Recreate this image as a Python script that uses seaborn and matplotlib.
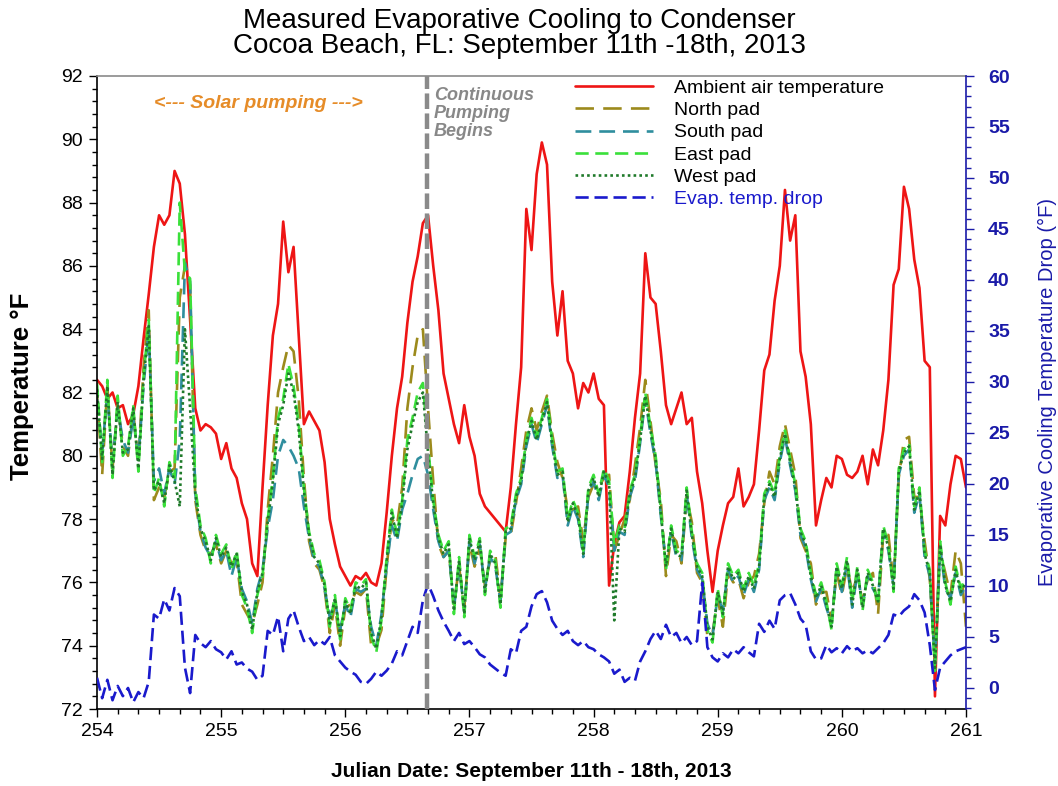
import numpy as np
import pandas as pd
import matplotlib
matplotlib.use("Agg")
import matplotlib.pyplot as plt
import seaborn as sns
from matplotlib.ticker import MultipleLocator
from matplotlib.lines import Line2D

# ---------------- data (hourly readings, Julian day 254 -> 261) ----------------
ambient = [
    82.4, 82.2, 81.8, 82.0, 81.5, 81.6, 81.0, 81.3, 82.2, 83.7, 85.1, 86.6, 87.6, 87.3, 87.6, 89.0, 88.6, 87.0, 84.3, 81.5, 80.8, 81.0, 80.9, 80.7,
    79.9, 80.4, 79.6, 79.3, 78.5, 78.0, 76.6, 76.2, 79.0, 81.6, 83.8, 84.8, 87.4, 85.8, 86.6, 83.8, 81.0, 81.4, 81.1, 80.8, 79.8, 78.0, 77.2, 76.5,
    76.2, 75.9, 76.2, 76.1, 76.3, 76.0, 75.9, 76.6, 78.2, 80.0, 81.5, 82.5, 84.2, 85.5, 86.3, 87.35, 87.6, 86.0, 84.6, 82.6, 81.8, 81.0, 80.4, 81.6,
    80.6, 80.0, 78.8, 78.4, 78.2, 78.0, 77.8, 77.6, 79.0, 81.0, 82.8, 87.8, 86.5, 88.9, 89.9, 89.2, 85.5, 83.8, 85.2, 83.0, 82.6, 81.5, 82.3, 82.0,
    82.6, 81.8, 81.6, 75.9, 77.2, 77.9, 78.1, 79.5, 81.2, 82.6, 86.4, 85.0, 84.8, 83.3, 81.6, 81.0, 81.5, 82.0, 81.0, 81.2, 79.5, 78.5, 77.0, 75.7,
    77.0, 77.8, 78.5, 78.7, 79.6, 78.4, 78.7, 79.1, 80.8, 82.7, 83.2, 84.9, 86.0, 88.4, 86.8, 87.6, 83.3, 82.5, 81.0, 77.8, 78.6, 79.3, 79.0, 80.0,
    79.9, 79.4, 79.3, 79.5, 80.0, 79.1, 80.2, 79.7, 80.8, 82.4, 85.4, 85.9, 88.5, 87.8, 86.2, 85.3, 83.0, 82.8, 72.4, 78.1, 77.8, 79.1, 80.0, 79.9,
    79.0,
]
north_pad = [
    82.0, 79.4, 82.2, 79.6, 81.6, 80.3, 80.0, 81.4, 79.8, 82.8, 84.6, 78.6, 79.0, 78.7, 79.5, 79.6, 85.0, 86.0, 85.4, 78.6, 77.5, 77.0, 76.9, 77.2,
    76.6, 77.0, 76.6, 76.7, 75.3, 75.0, 74.7, 75.3, 76.0, 78.3, 80.0, 82.0, 82.8, 83.5, 83.3, 81.8, 79.3, 77.3, 76.6, 76.4, 75.8, 74.4, 75.3, 74.0,
    75.2, 75.3, 75.7, 75.6, 75.8, 74.0, 74.0, 74.5, 76.5, 78.0, 77.8, 79.0, 81.5, 82.8, 83.8, 84.0, 81.5, 79.2, 77.2, 76.8, 77.0, 75.3, 76.5, 75.2,
    77.2, 76.5, 77.1, 75.9, 76.7, 76.9, 75.5, 77.4, 77.5, 78.5, 79.6, 80.8, 81.5, 80.8, 81.4, 81.9, 80.7, 79.8, 79.3, 78.3, 78.3, 78.4, 77.3, 78.7,
    79.1, 79.0, 79.3, 79.4, 77.0, 77.5, 78.0, 78.6, 79.7, 80.9, 82.4, 81.1, 79.7, 78.6, 76.2, 77.5, 77.3, 76.6, 78.7, 77.9, 76.3, 76.0, 74.3, 74.4,
    75.5, 74.6, 76.3, 76.0, 76.1, 75.5, 76.0, 76.2, 76.9, 78.5, 79.5, 79.1, 80.3, 81.0, 80.2, 79.4, 77.4, 77.0, 76.6, 75.3, 75.7, 75.7, 74.8, 76.3,
    75.6, 76.5, 75.7, 76.2, 75.4, 76.1, 76.3, 75.0, 77.5, 77.5, 76.0, 79.3, 80.5, 80.6, 78.7, 78.7, 77.3, 76.1, 73.5, 77.0, 76.3, 75.6, 77.0, 76.6,
    74.6,
]
south_pad = [
    81.8, 80.2, 81.9, 79.8, 81.5, 80.5, 80.1, 81.2, 79.9, 82.2, 84.0, 79.2, 79.6, 78.8, 79.6, 79.1, 80.5, 86.1, 85.5, 78.8, 77.6, 77.1, 76.8, 77.3,
    76.7, 77.0, 76.2, 76.8, 75.8, 75.4, 74.7, 75.8, 76.4, 77.7, 78.6, 80.0, 80.5, 80.3, 80.0, 79.6, 78.4, 77.4, 76.7, 76.5, 75.8, 74.9, 75.4, 74.5,
    75.3, 74.9, 75.8, 75.7, 75.8, 74.6, 74.0, 75.0, 76.5, 77.8, 77.3, 78.3, 78.8, 79.4, 79.9, 80.0, 79.4, 78.3, 77.3, 76.8, 77.0, 75.2, 76.5, 75.1,
    77.3, 76.6, 77.2, 75.8, 76.8, 76.5, 75.4, 77.5, 77.6, 78.6, 79.1, 80.3, 81.0, 80.4, 81.0, 81.6, 80.3, 79.3, 79.4, 77.8, 78.4, 78.0, 76.8, 78.8,
    79.2, 78.6, 79.4, 79.0, 77.0, 77.6, 77.5, 78.7, 79.2, 80.4, 81.8, 80.7, 79.8, 78.1, 76.6, 77.6, 76.8, 76.7, 78.8, 77.4, 76.4, 76.1, 74.7, 74.3,
    75.6, 75.1, 76.4, 76.0, 76.2, 75.6, 76.1, 75.7, 76.4, 78.6, 79.0, 78.6, 79.8, 80.6, 79.7, 78.9, 77.5, 77.1, 76.1, 75.4, 75.8, 75.2, 74.7, 76.4,
    75.7, 76.6, 75.2, 76.3, 75.3, 76.2, 75.8, 75.5, 77.6, 77.0, 75.9, 79.4, 80.0, 80.2, 78.2, 78.8, 76.8, 76.2, 73.4, 77.1, 75.8, 75.5, 76.3, 75.6,
    75.9,
]
east_pad = [
    82.3, 79.8, 82.4, 79.3, 81.9, 80.0, 80.3, 81.6, 79.5, 82.5, 84.3, 78.8, 79.3, 78.4, 79.8, 79.3, 88.0, 85.8, 85.6, 79.0, 77.8, 77.4, 76.6, 77.5,
    76.9, 77.2, 76.4, 77.0, 75.6, 75.2, 74.4, 75.6, 76.2, 78.0, 79.3, 81.2, 81.8, 82.9, 82.2, 81.0, 79.0, 77.6, 76.9, 76.7, 76.0, 74.6, 75.6, 74.2,
    75.5, 75.1, 76.0, 75.9, 76.1, 74.3, 73.8, 74.8, 76.8, 78.3, 77.5, 78.6, 80.5, 81.2, 82.0, 82.3, 80.3, 78.6, 77.5, 77.0, 77.3, 75.0, 76.8, 74.9,
    77.5, 76.8, 77.4, 75.6, 77.0, 76.7, 75.2, 77.7, 77.8, 78.8, 79.3, 80.5, 81.2, 80.6, 81.2, 81.8, 80.5, 79.5, 79.6, 78.0, 78.6, 78.2, 77.0, 79.0,
    79.4, 78.8, 79.6, 79.2, 77.2, 77.8, 77.7, 78.9, 79.4, 80.6, 82.0, 80.9, 80.0, 78.3, 76.4, 77.8, 77.0, 76.9, 79.0, 77.6, 76.6, 76.3, 74.5, 74.1,
    75.8, 74.9, 76.6, 76.2, 76.4, 75.8, 76.3, 75.9, 76.6, 78.8, 79.2, 78.8, 80.0, 80.8, 79.9, 79.1, 77.7, 77.3, 76.3, 75.6, 76.0, 75.4, 74.5, 76.6,
    75.9, 76.8, 75.4, 76.5, 75.1, 76.4, 76.0, 75.3, 77.8, 77.2, 75.7, 79.6, 80.2, 80.4, 78.4, 79.0, 77.0, 76.4, 73.2, 77.3, 76.0, 75.3, 76.5, 75.8,
    76.2,
]
west_pad = [
    82.1, 79.9, 82.2, 79.4, 81.7, 80.1, 80.2, 81.5, 79.6, 82.4, 84.1, 78.9, 79.2, 78.5, 79.7, 79.2, 78.4, 84.0, 81.5, 78.8, 77.7, 77.3, 76.7, 77.4,
    76.8, 77.1, 76.5, 76.9, 75.7, 75.3, 74.5, 75.7, 76.3, 77.9, 79.2, 81.0, 81.6, 82.6, 82.0, 80.8, 78.9, 77.5, 76.8, 76.6, 75.9, 74.7, 75.5, 74.3,
    75.4, 75.0, 75.9, 75.8, 76.0, 74.4, 73.9, 74.9, 76.7, 78.2, 77.4, 78.5, 80.2, 81.0, 81.7, 82.0, 80.1, 78.5, 77.4, 76.9, 77.2, 75.1, 76.7, 75.0,
    77.4, 76.7, 77.3, 75.7, 76.9, 76.6, 75.3, 77.6, 77.7, 78.7, 79.2, 80.4, 81.1, 80.5, 81.1, 81.7, 80.4, 79.4, 79.5, 77.9, 78.5, 78.1, 76.9, 78.9,
    79.3, 78.7, 79.5, 79.1, 74.8, 77.7, 77.6, 78.8, 79.3, 80.5, 81.9, 80.8, 79.9, 78.2, 76.5, 77.7, 76.9, 76.8, 78.9, 77.5, 76.5, 76.2, 74.6, 74.2,
    75.7, 75.0, 76.5, 76.1, 76.3, 75.7, 76.2, 75.8, 76.5, 78.7, 79.1, 78.7, 79.9, 80.7, 79.8, 79.0, 77.6, 77.2, 76.2, 75.5, 75.9, 75.3, 74.6, 76.5,
    75.8, 76.7, 75.3, 76.4, 75.2, 76.3, 75.9, 75.4, 77.7, 77.1, 75.8, 79.5, 80.1, 80.3, 78.3, 78.9, 76.9, 76.3, 73.3, 77.2, 75.9, 75.4, 76.4, 75.7,
    76.0,
]
evap_drop = [
    1.0, -1.0, 0.8, -1.2, 0.2, -0.8, 0.0, -1.4, -0.4, -1.0, 0.6, 7.2, 6.8, 8.7, 7.6, 9.8, 9.0, 2.0, -0.5, 5.2, 4.4, 4.0, 4.6, 3.8,
    3.5, 2.8, 3.6, 2.3, 2.5, 1.9, 1.6, 0.8, 1.2, 5.6, 5.2, 7.0, 3.6, 6.8, 7.6, 6.0, 4.6, 5.0, 4.2, 4.7, 4.3, 5.0, 3.2, 2.6,
    2.0, 1.6, 1.3, 0.6, 0.4, 0.9, 1.6, 1.2, 1.7, 2.4, 3.6, 3.2, 4.6, 6.0, 5.4, 8.6, 10.2, 9.0, 7.6, 6.5, 5.6, 4.6, 5.4, 4.3,
    4.6, 4.0, 3.3, 3.0, 2.3, 1.9, 1.5, 1.2, 3.8, 3.4, 5.6, 6.0, 8.0, 9.2, 9.5, 8.4, 6.6, 5.8, 5.2, 5.6, 4.6, 4.2, 4.6, 4.0,
    3.8, 3.3, 3.0, 2.6, 1.4, 1.8, 0.6, 1.0, 0.7, 2.6, 3.6, 4.8, 5.6, 4.8, 6.2, 5.0, 5.4, 4.4, 5.0, 4.2, 4.6, 10.3, 4.0, 3.0,
    2.6, 3.4, 3.0, 3.8, 3.4, 4.0, 3.5, 3.1, 6.3, 5.5, 6.6, 5.8, 8.6, 9.1, 9.3, 8.2, 6.8, 6.2, 3.6, 2.8, 2.9, 4.2, 3.5, 3.9,
    3.4, 4.1, 3.6, 3.9, 3.4, 3.7, 3.4, 3.9, 4.4, 5.2, 7.2, 7.0, 7.6, 8.0, 9.2, 8.6, 7.4, 4.2, -0.2, 2.0, 2.6, 3.2, 3.6, 3.8,
    4.0,
]
day_start = 254
pumping_start_day = 256.66
legend_labels = ["Ambient air temperature", "North pad", "South pad", "East pad",
                 "West pad", "Evap. temp. drop"]

day = day_start + np.arange(len(ambient)) / 24.0
df = pd.DataFrame({"day": day, "ambient": ambient, "north": north_pad, "south": south_pad,
                   "east": east_pad, "west": west_pad, "evap": evap_drop})

# ---------------- style ----------------
sns.set_theme(style="white")
plt.rcParams["font.family"] = ["Liberation Sans", "DejaVu Sans"]
plt.rcParams["text.color"] = "black"
plt.rcParams["axes.labelcolor"] = "black"
plt.rcParams["xtick.color"] = "black"
plt.rcParams["ytick.color"] = "black"

C_AMB = "#ee1515"
C_N = "#9c8a1c"
C_S = "#2f8e9e"
C_E = "#3ae03a"
C_W = "#1f7a2a"
C_EV = "#1a1acc"
C_RAX = "#1a1aa8"

fig = plt.figure(figsize=(10.58, 7.86), dpi=100)
fig.patch.set_facecolor("white")
ax = fig.add_axes([97 / 1058, 1 - 709 / 786, (966 - 97) / 1058, (709 - 76) / 786])
ax2 = ax.twinx()

lw = 1.9
styles = [
    ("ambient", C_AMB, "-"),
    ("north", C_N, (0, (7, 3.5))),
    ("south", C_S, (0, (6, 3))),
    ("east", C_E, (0, (5, 2.5))),
    ("west", C_W, (0, (1, 1.2))),
]
for col, c, ls in styles:
    sns.lineplot(data=df, x="day", y=col, ax=ax, color=c, linewidth=lw,
                 linestyle=ls, errorbar=None, legend=False)
sns.lineplot(data=df, x="day", y="evap", ax=ax2, color=C_EV, linewidth=lw,
             linestyle=(0, (5, 2.2)), errorbar=None, legend=False)

ax2.axvline(pumping_start_day, color="#8a8a8a", linewidth=3.2,
            linestyle=(0, (3.5, 1.0)), zorder=6)

# axes ranges & ticks
ax.set_xlim(254, 261)
ax.set_ylim(72, 92)
ax2.set_ylim(-2.06, 60)
ax.xaxis.set_major_locator(MultipleLocator(1))
ax.xaxis.set_minor_locator(MultipleLocator(1 / 6))
ax.yaxis.set_major_locator(MultipleLocator(2))
ax.yaxis.set_minor_locator(MultipleLocator(0.4))
ax2.set_yticks(np.arange(0, 61, 5))
ax2.yaxis.set_minor_locator(MultipleLocator(1))

ax.tick_params(axis="both", which="major", direction="out", length=6, width=1,
               labelsize=14, colors="black", pad=4, left=True, bottom=True)
ax.tick_params(axis="both", which="minor", direction="out", length=3.5, width=1,
               left=True, bottom=True)
ax.tick_params(axis="y", which="both", right=False)
ax.tick_params(axis="x", which="both", top=False)
ax2.tick_params(axis="y", which="major", direction="out", length=6, width=1,
                labelsize=14, colors=C_RAX, pad=10, right=True)
ax2.tick_params(axis="y", which="minor", direction="out", length=3.5, width=1,
                colors=C_RAX, right=True)
for t in ax2.get_yticklabels():
    t.set_fontweight("bold")

for s in ["left", "bottom"]:
    ax.spines[s].set_color("black")
    ax.spines[s].set_linewidth(1.2)
ax.spines["top"].set_color("#8a8a8a")
ax.spines["top"].set_linewidth(1.2)
ax.spines["right"].set_visible(False)
for s in ["left", "bottom", "top"]:
    ax2.spines[s].set_visible(False)
ax2.spines["right"].set_color(C_RAX)
ax2.spines["right"].set_linewidth(1.2)

# labels
ax.set_xlabel("Julian Date: September 11th - 18th, 2013", fontsize=15, fontweight="bold")
ax.xaxis.set_label_coords(0.5, -0.084)
ax.set_ylabel("Temperature °F", fontsize=18.5, fontweight="bold")
ax.yaxis.set_label_coords(-0.072, 0.51)
ax2.set_ylabel("Evaporative Cooling Temperature Drop (°F)", fontsize=14.5,
               color=C_RAX)
ax2.yaxis.set_label_coords(1.083, 0.5)

fig.text(0.491, 0.99, "Measured Evaporative Cooling to Condenser\nCocoa Beach, FL: September 11th -18th, 2013",
         ha="center", va="top", fontsize=20, linespacing=0.98, color="black")

# annotations
ax2.text(255.3, 57.3, "<--- Solar pumping --->", ha="center", va="center",
         fontsize=14, fontweight="bold", fontstyle="italic", color="#e68c28")
ax2.text(256.715, 58.9, "Continuous\nPumping\nBegins", ha="left", va="top",
         fontsize=13, fontweight="bold", fontstyle="italic", color="#888888",
         linespacing=1.05)

# legend
handles = [Line2D([], [], color=c, linewidth=lw, linestyle=ls) for _, c, ls in styles]
handles.append(Line2D([], [], color=C_EV, linewidth=lw, linestyle=(0, (5, 2.2))))
leg = ax2.legend(handles, legend_labels, loc="upper left",
                 bbox_to_anchor=((575 - 97) / 869, 0.995), frameon=False,
                 fontsize=14, handlelength=4.0, handletextpad=1.1,
                 labelspacing=0.24, borderpad=0.0, borderaxespad=0.0)
leg.get_texts()[5].set_color(C_EV)
leg.set_zorder(10)

fig.savefig("out.png", dpi=100, facecolor="white")
